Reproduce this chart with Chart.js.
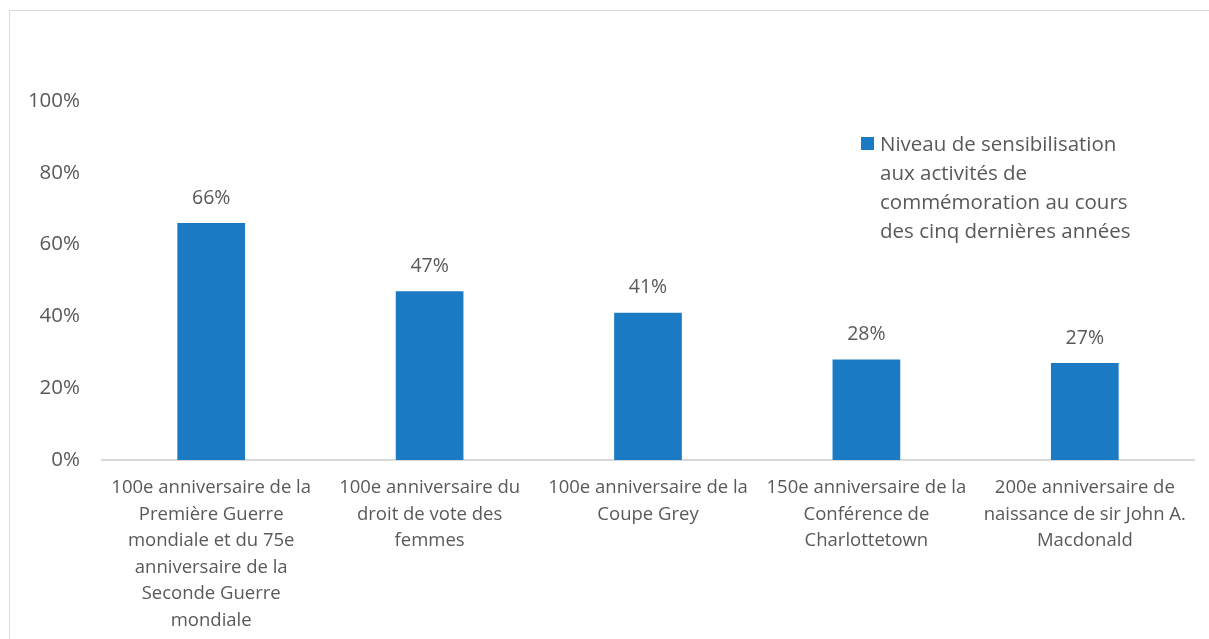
<!DOCTYPE html>
<html>
<head>
<meta charset="utf-8">
<script src="https://cdn.jsdelivr.net/npm/chart.js@4"></script>
<style>
  html, body { margin: 0; padding: 0; background: #fff; overflow: hidden; }
  #wrap { position: relative; width: 1209px; height: 639px; }
  #frame { position: absolute; left: 9px; top: 10px; width: 1300px; height: 800px;
           border: 1px solid #d9d9d9; box-sizing: border-box; pointer-events: none; }
  #legend { position: absolute; left: 861px; top: 129px; width: 330px;
            font-family: "Open Sans", sans-serif; font-size: 20.5px; line-height: 29px; color: #595959; }
  #legend .box { position: absolute; left: 0; top: 8px; width: 13px; height: 13px; }
  #legend .txt { margin-left: 19px; white-space: nowrap; }
</style>
</head>
<body>
<div id="wrap">
  <canvas id="chart" width="1209" height="639"></canvas>
  <div id="frame"></div>
  <div id="legend"></div>
</div>
<script>
// data
var categories = [
    ["100e anniversaire de la", "Première Guerre", "mondiale et du 75e", "anniversaire de la", "Seconde Guerre", "mondiale"],
    ["100e anniversaire du", "droit de vote des", "femmes"],
    ["100e anniversaire de la", "Coupe Grey"],
    ["150e anniversaire de la", "Conférence de", "Charlottetown"],
    ["200e anniversaire de", "naissance de sir John A.", "Macdonald"]
];
var awareness = [66, 47, 41, 28, 27];
var seriesLabel = ["Niveau de sensibilisation", "aux activités de", "commémoration au cours", "des cinq dernières années"];
var yTicks = [0, 20, 40, 60, 80, 100];

var barColor = "#1a7bc4";
var textColor = "#595959";
var fontFamily = "'Open Sans', sans-serif";

// value labels above each bar
var valueLabels = {
    id: "valueLabels",
    afterDatasetsDraw: function (chart) {
        var ctx = chart.ctx;
        var meta = chart.getDatasetMeta(0);
        ctx.save();
        ctx.font = "19.5px " + fontFamily;
        ctx.fillStyle = textColor;
        ctx.textAlign = "center";
        ctx.textBaseline = "middle";
        meta.data.forEach(function (bar, i) {
            ctx.fillText(awareness[i] + "%", bar.x, bar.y - 25);
        });
        ctx.restore();
    }
};

var ctx = document.getElementById("chart").getContext("2d");
var chart = new Chart(ctx, {
    type: "bar",
    data: {
        labels: categories,
        datasets: [
            {
                label: seriesLabel.join(" "),
                data: awareness,
                backgroundColor: barColor,
                borderWidth: 0,
                categoryPercentage: 1,
                barPercentage: 0.31,
            },
        ],
    },
    options: {
        responsive: false,
        animation: false,
        layout: { padding: { top: 101, right: 15, left: 0, bottom: 0 } },
        plugins: {
            legend: { display: false },
            tooltip: { enabled: false },
        },
        scales: {
            x: {
                grid: { display: false, drawTicks: false },
                border: { display: true, color: "#d9d9d9", width: 2 },
                ticks: {
                    color: textColor,
                    font: { family: fontFamily, size: 18.5, lineHeight: 1.43 },
                    padding: 15,
                    maxRotation: 0,
                    autoSkip: false,
                },
                afterFit: function (scale) { scale.height = 179; },
            },
            y: {
                min: 0,
                max: 100,
                afterBuildTicks: function (scale) {
                    scale.ticks = yTicks.map(function (v) { return { value: v }; });
                },
                grid: { display: false, drawTicks: false },
                border: { display: false },
                ticks: {
                    color: textColor,
                    font: { family: fontFamily, size: 20.5 },
                    padding: 22,
                    callback: function (v) { return v + "%"; },
                },
                afterFit: function (scale) { scale.width = 102; },
            },
        },
    },
    plugins: [valueLabels],
});

// legend built from the dataset, broken into the same lines as the reference
var legend = document.getElementById("legend");
chart.data.datasets.forEach(function (ds) {
    legend.innerHTML = '<span class="box" style="background:' + ds.backgroundColor + '"></span>' +
        '<div class="txt">' + seriesLabel.join("<br>") + '</div>';
});
</script>
</body>
</html>
